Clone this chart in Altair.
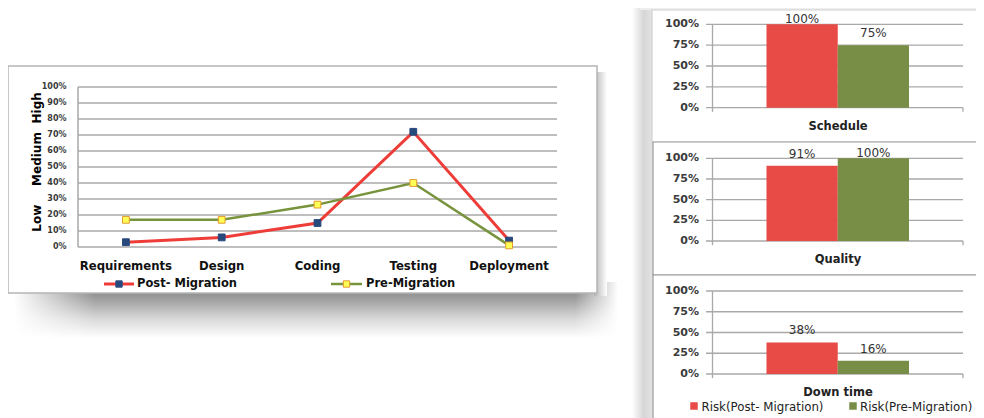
import altair as alt
import pandas as pd

# ---------------- data ----------------
phases = ["Requirements", "Design", "Coding", "Testing", "Deployment"]
post_migration = [0.03, 0.06, 0.15, 0.72, 0.04]
pre_migration = [0.17, 0.17, 0.265, 0.40, 0.01]
line_series = ["Post- Migration", "Pre-Migration"]
line_ticks = [0.0, 0.1, 0.2, 0.3, 0.4, 0.5, 0.6, 0.7, 0.8, 0.9, 1.0]
risk_levels = ["Low", "Medium", "High"]
risk_level_at = [0.18, 0.55, 0.87]

metrics = ["Schedule", "Quality", "Down time"]
risk_post = [1.00, 0.91, 0.38]
risk_pre = [0.75, 1.00, 0.16]
bar_series = ["Risk(Post- Migration)", "Risk(Pre-Migration)"]
bar_ticks = [0.0, 0.25, 0.5, 0.75, 1.0]

# ---------------- layout / style ----------------
OFF = 8


def p(v):
    """page pixel -> canvas pixel"""
    return v - OFF


W, H = 968, 410
FONT = "DejaVu Sans"
RED_LINE = "#EE3D38"
GREEN_LINE = "#77933C"
NAVY = "#28497C"
YELLOW = "#FFFF55"
YELLOW_EDGE = "#E39A2E"
RED_BAR = "#E84B45"
GREEN_BAR = "#788D45"
GRID = "#A9A9A9"

one = pd.DataFrame({"k": [0]})


def grad(stops, horizontal=False):
    return alt.Gradient(
        gradient="linear",
        x1=0, y1=0,
        x2=1 if horizontal else 0,
        y2=0 if horizontal else 1,
        stops=[alt.GradientStop(offset=o, color=c) for o, c in stops],
    )


def rect(x0, y0, x1, y1, **mark):
    return alt.Chart(one).mark_rect(**mark).encode(
        x=alt.value(p(x0)), x2=alt.value(p(x1)),
        y=alt.value(p(y0)), y2=alt.value(p(y1)),
    )


layers = []

# ---------------- left line chart ----------------
LX = alt.Scale(type="point", domain=phases, range=[p(78), p(557)], padding=0.5)
LY = alt.Scale(domain=[0, 1], range=[p(247), p(87)], nice=False, zero=False)

# soft drop shadow + frame
layers.append(rect(14, 282, 618, 338, fill=grad([(0, "#777777"), (0.3, "#9e9e9e"), (0.65, "#d8d8d8"), (1, "#ffffff")])))
layers.append(rect(14, 282, 95, 338, fill=grad([(0, "#ffffff"), (1, "rgba(255,255,255,0)")], horizontal=True)))
layers.append(rect(575, 282, 618, 338, fill=grad([(0, "rgba(255,255,255,0)"), (1, "#ffffff")], horizontal=True)))
layers.append(rect(594, 72, 607, 296, fill=grad([(0, "#b4b4b4"), (1, "#ffffff")], horizontal=True)))
layers.append(rect(8, 66, 597, 293, fill="white", stroke="#B5B5B5", strokeWidth=1.5))

ticks_df = pd.DataFrame({"t": line_ticks})
layers.append(
    alt.Chart(ticks_df).mark_rule(color=GRID, strokeWidth=1.5).encode(
        y=alt.Y("t:Q", scale=LY, axis=None), x=alt.value(p(78)), x2=alt.value(p(557))
    )
)
layers.append(
    alt.Chart(one).mark_rule(color=GRID, strokeWidth=1.5).encode(
        x=alt.value(p(78)),
        y=alt.Y(datum=0, type="quantitative", scale=LY, axis=None),
        y2=alt.Y2(datum=1),
    )
)
layers.append(
    alt.Chart(ticks_df).mark_text(
        align="right", baseline="middle", font=FONT, fontSize=8, fontWeight="bold", color="#3a3a3a"
    ).encode(y=alt.Y("t:Q", scale=LY, axis=None), x=alt.value(p(66.5)), text=alt.Text("t:Q", format=".0%"))
)
risk_df = pd.DataFrame({"level": risk_levels, "at": risk_level_at})
layers.append(
    alt.Chart(risk_df).mark_text(
        angle=270, align="center", baseline="middle", font=FONT, fontSize=12, fontWeight="bold", color="#000"
    ).encode(y=alt.Y("at:Q", scale=LY, axis=None), x=alt.value(p(37)), text="level:N")
)
layers.append(
    alt.Chart(pd.DataFrame({"phase": phases})).mark_text(
        baseline="middle", font=FONT, fontSize=11.7, fontWeight="bold", color="#111"
    ).encode(x=alt.X("phase:N", scale=LX, axis=None), y=alt.value(p(266)), text="phase:N")
)

post_df = pd.DataFrame({"phase": phases, "value": post_migration, "idx": range(len(phases))})
pre_df = pd.DataFrame({"phase": phases, "value": pre_migration, "idx": range(len(phases))})


def line_layer(df, color, width):
    return alt.Chart(df).mark_line(color=color, strokeWidth=width).encode(
        x=alt.X("phase:N", scale=LX, axis=None),
        y=alt.Y("value:Q", scale=LY, axis=None),
        order=alt.Order("idx:Q"),
    )


def point_layer(df, fill, stroke):
    return alt.Chart(df).mark_square(
        size=46, fill=fill, stroke=stroke, strokeWidth=1, opacity=1, filled=True
    ).encode(x=alt.X("phase:N", scale=LX, axis=None), y=alt.Y("value:Q", scale=LY, axis=None))


layers.append(line_layer(post_df, RED_LINE, 3))
layers.append(point_layer(post_df, NAVY, NAVY))
layers.append(line_layer(pre_df, GREEN_LINE, 2.5))
layers.append(point_layer(pre_df, YELLOW, YELLOW_EDGE))


def line_legend(x0, x1, ty, color, width, fill, stroke, label, tx):
    return [
        alt.Chart(one).mark_rule(color=color, strokeWidth=width).encode(
            x=alt.value(p(x0)), x2=alt.value(p(x1)), y=alt.value(p(ty))
        ),
        alt.Chart(one).mark_square(size=40, fill=fill, stroke=stroke, strokeWidth=1, opacity=1, filled=True).encode(
            x=alt.value(p((x0 + x1) / 2)), y=alt.value(p(ty))
        ),
        alt.Chart(one).mark_text(
            align="left", baseline="middle", font=FONT, fontSize=11.5, fontWeight="bold", color="#111"
        ).encode(x=alt.value(p(tx)), y=alt.value(p(ty)), text=alt.value(label)),
    ]


layers += line_legend(104, 134, 284, RED_LINE, 3, NAVY, NAVY, line_series[0], 137)
layers += line_legend(331, 362, 284, GREEN_LINE, 2.5, YELLOW, YELLOW_EDGE, line_series[1], 366)

# ---------------- right bar panels ----------------
layers.append(rect(632, 0, 653, 418, fill=grad([(0, "#ffffff"), (0.55, "#d6d6d6"), (1, "#e4e4e4")], horizontal=True)))
layers.append(rect(640, 0, 990, 10, fill=grad([(0, "#fbfbfb"), (1, "#ececec")])))
layers.append(rect(652, 10, 995, 142, fill="white", stroke="#cfcfcf", strokeWidth=1.2))
layers.append(rect(653, 142, 995, 275, fill="white", stroke="#9a9a9a", strokeWidth=1.2))
layers.append(rect(653, 275, 995, 430, fill="white", stroke="#9a9a9a", strokeWidth=1.2))

BX = alt.Scale(type="band", domain=bar_series, range=[p(766.5), p(909)], paddingInner=0, paddingOuter=0)
BC = alt.Scale(domain=bar_series, range=[RED_BAR, GREEN_BAR])
panel_span = [(107.7, 24.3), (241.0, 158.3), (374.0, 291.0)]  # page y of 0% and 100%

bticks_df = pd.DataFrame({"t": bar_ticks})
for i, (y0, y1) in enumerate(panel_span):
    BY = alt.Scale(domain=[-0.05, 1], range=[p(y0 + 0.05 * (y0 - y1)), p(y1)], nice=False, zero=False)
    layers.append(
        alt.Chart(bticks_df).mark_rule(color=GRID, strokeWidth=1.3).encode(
            y=alt.Y("t:Q", scale=BY, axis=None), x=alt.value(p(706)), x2=alt.value(p(963))
        )
    )
    # value axis line and the category-axis end tick
    for ax_x, top in [(712.5, 1), (963, 0)]:
        layers.append(
            alt.Chart(one).mark_rule(color=GRID, strokeWidth=1.3).encode(
                x=alt.value(p(ax_x)),
                y=alt.Y(datum=-0.05, type="quantitative", scale=BY, axis=None),
                y2=alt.Y2(datum=top),
            )
        )
    layers.append(
        alt.Chart(bticks_df).mark_text(
            align="right", baseline="middle", font=FONT, fontSize=11, fontWeight="bold", color="#3b3b3b"
        ).encode(y=alt.Y("t:Q", scale=BY, axis=None), x=alt.value(p(699)), text=alt.Text("t:Q", format=".0%"))
    )
    bdf = pd.DataFrame({"series": bar_series, "value": [risk_post[i], risk_pre[i]]})
    layers.append(
        alt.Chart(bdf).mark_bar().encode(
            x=alt.X("series:N", scale=BX, axis=None),
            y=alt.Y("value:Q", scale=BY, axis=None),
            y2=alt.Y2(datum=0),
            color=alt.Color("series:N", scale=BC, legend=None),
        )
    )
    layers.append(
        alt.Chart(bdf).transform_calculate(ly="min(datum.value + 0.145, 1.06)").mark_text(
            baseline="middle", font=FONT, fontSize=12, color="#333"
        ).encode(
            x=alt.X("series:N", scale=BX, axis=None),
            y=alt.Y("ly:Q", scale=BY, axis=None),
            text=alt.Text("value:Q", format=".0%"),
        )
    )
    layers.append(
        alt.Chart(pd.DataFrame({"metric": [metrics[i]]})).mark_text(
            baseline="middle", font=FONT, fontSize=11.5, fontWeight="bold", color="#222", dy=19
        ).encode(
            x=alt.value(p(838)),
            y=alt.Y(datum=0, type="quantitative", scale=BY, axis=None),
            text="metric:N",
        )
    )

# bar legend
for sx, tx, col, label in [(694, 701.5, RED_BAR, bar_series[0]), (853, 860, GREEN_BAR, bar_series[1])]:
    layers.append(
        alt.Chart(one).mark_square(size=56, color=col, opacity=1).encode(x=alt.value(p(sx)), y=alt.value(p(406)))
    )
    layers.append(
        alt.Chart(one).mark_text(align="left", baseline="middle", font=FONT, fontSize=11.8, color="#222").encode(
            x=alt.value(p(tx)), y=alt.value(p(406.5)), text=alt.value(label)
        )
    )

chart = (
    alt.layer(*layers)
    .resolve_scale(x="independent", y="independent", color="independent")
    .properties(width=W, height=H, padding=0, autosize=alt.AutoSizeParams(type="none"), background="white")
    .configure_view(stroke=None)
)

chart.save("out.html", embed_options={"renderer": "svg", "actions": False})
